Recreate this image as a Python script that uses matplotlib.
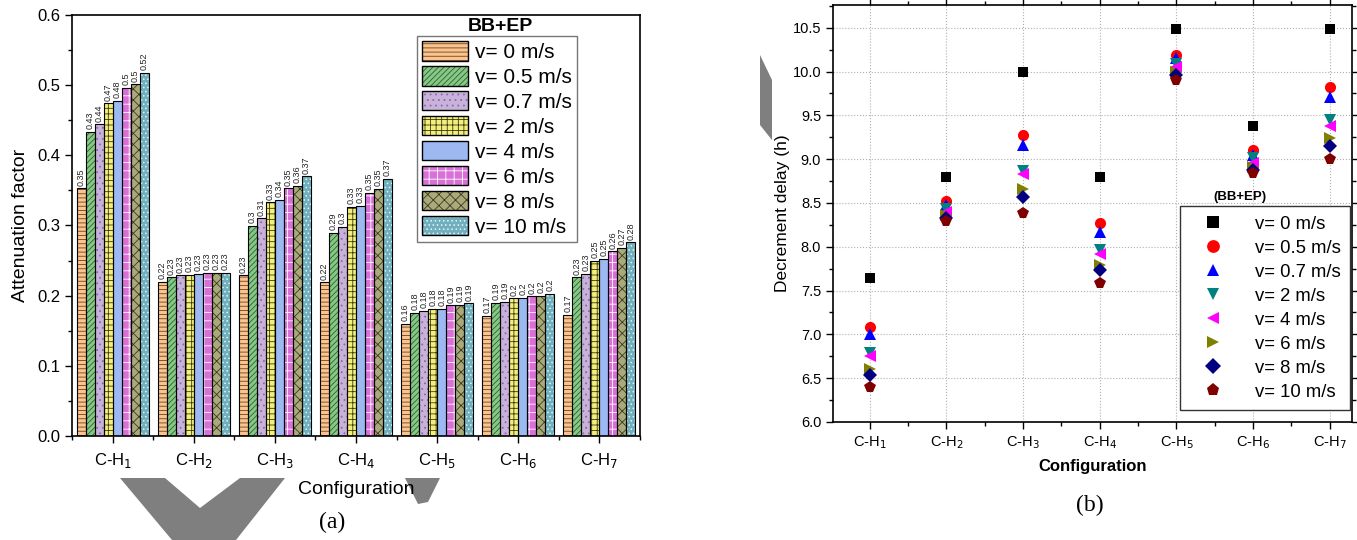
import matplotlib
matplotlib.use("Agg")
import matplotlib.pyplot as plt
from matplotlib.patches import Patch, Polygon
from matplotlib.ticker import MultipleLocator
import numpy as np

plt.rcParams['font.family'] = ['Liberation Sans', 'DejaVu Sans']
plt.rcParams['hatch.linewidth'] = 0.6

# ---------------- data ----------------
configs = ["C-H$_1$", "C-H$_2$", "C-H$_3$", "C-H$_4$", "C-H$_5$", "C-H$_6$", "C-H$_7$"]
speeds = ["v= 0 m/s", "v= 0.5 m/s", "v= 0.7 m/s", "v= 2 m/s",
          "v= 4 m/s", "v= 6 m/s", "v= 8 m/s", "v= 10 m/s"]

# Attenuation factor (panel a): one list per speed, values for C-H1..C-H7
att_v0 = [0.353, 0.220, 0.229, 0.219, 0.160, 0.171, 0.173]
att_v05 = [0.433, 0.226, 0.299, 0.289, 0.176, 0.190, 0.226]
att_v07 = [0.444, 0.229, 0.310, 0.298, 0.178, 0.191, 0.231]
att_v2 = [0.474, 0.230, 0.333, 0.326, 0.181, 0.196, 0.249]
att_v4 = [0.477, 0.231, 0.337, 0.328, 0.181, 0.197, 0.252]
att_v6 = [0.496, 0.232, 0.353, 0.346, 0.186, 0.199, 0.263]
att_v8 = [0.501, 0.232, 0.356, 0.352, 0.187, 0.200, 0.268]
att_v10 = [0.517, 0.233, 0.370, 0.366, 0.189, 0.203, 0.276]

# Decrement delay (panel b)
dd_v0 = [7.64, 8.80, 10.00, 8.80, 10.49, 9.38, 10.49]
dd_v05 = [7.09, 8.52, 9.28, 8.27, 10.19, 9.10, 9.82]
dd_v07 = [7.00, 8.48, 9.16, 8.17, 10.15, 9.05, 9.71]
dd_v2 = [6.79, 8.43, 8.87, 7.96, 10.09, 9.01, 9.45]
dd_v4 = [6.75, 8.40, 8.83, 7.92, 10.05, 8.96, 9.38]
dd_v6 = [6.61, 8.36, 8.66, 7.79, 10.00, 8.91, 9.24]
dd_v8 = [6.54, 8.33, 8.57, 7.74, 9.96, 8.88, 9.15]
dd_v10 = [6.40, 8.29, 8.39, 7.59, 9.90, 8.84, 9.00]

att_all = [att_v0, att_v05, att_v07, att_v2, att_v4, att_v6, att_v8, att_v10]
dd_all = [dd_v0, dd_v05, dd_v07, dd_v2, dd_v4, dd_v6, dd_v8, dd_v10]

# ---------------- styles ----------------
bar_face = ['#FBC48E', '#86C986', '#C9B2DA', '#F4EF7C', '#9DB9F2', '#D870D8', '#A9A97A', '#6FAFBE']
bar_hatch = ['----', '//////', '...', '+++', '', '++', 'xxx', '....']
bar_hcol = ['#6a4220', '#2f5f2f', '#8a6aa8', '#3a3a10', '#9DB9F2', '#ffffff', '#3a3a22', '#e6f4f6']

mk_style = ['s', 'o', '^', 'v', '<', '>', 'D', 'p']
mk_color = ['#000000', '#FF0000', '#0000FF', '#008080', '#FF00FF', '#808000', '#000080', '#800000']
mk_size = [7, 8, 8, 8, 8, 8, 7, 8.5]

fig = plt.figure(figsize=(13.57, 5.40), dpi=100)

# ---------------- grey watermark shapes (behind everything) ----------------
def px_poly(pts, **kw):
    P = [(px / 1357, 1 - py / 540) for px, py in pts]
    fig.patches.append(Polygon(P, closed=True, transform=fig.transFigure, **kw))

grey = dict(facecolor='#7f7f7f', edgecolor='none', zorder=-1)
px_poly([(120, 478), (165, 478), (200, 508), (240, 478), (285, 478), (236, 540), (172, 540)], **grey)
px_poly([(405, 478), (440, 478), (428, 502), (418, 504)], **grey)
px_poly([(760, 55), (772, 80), (772, 140), (760, 125)], **grey)

# ---------------- panel (a) ----------------
axa = fig.add_axes([72 / 1357, 104 / 540, 568 / 1357, 421 / 540])
x = np.arange(1, len(configs) + 1)
w = 0.111
for j, vals in enumerate(att_all):
    pos = x + (j - 3.5) * w
    axa.bar(pos, vals, width=w, color=bar_face[j], hatch=bar_hatch[j],
            edgecolor=bar_hcol[j], linewidth=0, zorder=2)
    axa.bar(pos, vals, width=w, fill=False, edgecolor='black', linewidth=0.8, zorder=3)
    for p, v in zip(pos, vals):
        lab = f"{v:.2f}".rstrip('0')
        axa.text(p, v + 0.004, lab, rotation=90, ha='center', va='bottom',
                 fontsize=6.5, color='#222222')

axa.set_xlim(0.5, 7.5)
axa.set_ylim(0, 0.6)
axa.set_xticks(x)
axa.set_xticklabels(configs, fontsize=12)
axa.xaxis.set_minor_locator(MultipleLocator(0.5))
axa.yaxis.set_major_locator(MultipleLocator(0.1))
axa.yaxis.set_minor_locator(MultipleLocator(0.05))
axa.yaxis.set_major_formatter(matplotlib.ticker.FormatStrFormatter('%.1f'))
axa.tick_params(axis='y', labelsize=12)
axa.tick_params(axis='x', pad=6)
axa.tick_params(which='major', direction='out', length=5, width=1)
axa.tick_params(which='minor', direction='out', length=3, width=1)
axa.set_ylabel("Attenuation factor", fontsize=14, labelpad=6)
axa.set_xlabel("Configuration", fontsize=14, labelpad=8)
for s in axa.spines.values():
    s.set_linewidth(1.2)

handles_a = [(Patch(facecolor=bar_face[j], hatch=bar_hatch[j], edgecolor=bar_hcol[j], linewidth=0),
              Patch(fill=False, edgecolor='black', linewidth=1.0)) for j in range(8)]
leg_a = axa.legend(handles_a, speeds, loc='upper left', bbox_to_anchor=(0.607, 0.950),
                   fontsize=15, frameon=True, fancybox=False, edgecolor='#555555',
                   handlelength=2.2, handleheight=1.05, labelspacing=0.2,
                   handletextpad=0.35, borderpad=0.25, borderaxespad=0)
leg_a.get_frame().set_linewidth(1.0)
axa.text(0.754, 0.972, "BB+EP", transform=axa.transAxes, ha='center', va='center',
         fontsize=14, fontweight='bold')

# ---------------- panel (b) ----------------
axb = fig.add_axes([833 / 1357, 118 / 540, 519 / 1357, 417 / 540])
for j, vals in enumerate(dd_all):
    axb.plot(x, vals, linestyle='none', marker=mk_style[j], color=mk_color[j],
             markersize=mk_size[j], markeredgewidth=0, label=speeds[j], zorder=3)

axb.set_xlim(0.52, 7.29)
axb.set_ylim(6.0, 10.76)
axb.set_xticks(x)
axb.set_xticklabels(configs, fontsize=10.5)
axb.xaxis.set_minor_locator(MultipleLocator(0.5))
axb.yaxis.set_major_locator(MultipleLocator(0.5))
axb.yaxis.set_minor_locator(MultipleLocator(0.25))
axb.yaxis.set_major_formatter(matplotlib.ticker.FormatStrFormatter('%.1f'))
axb.tick_params(axis='y', labelsize=10.5)
axb.tick_params(which='major', direction='out', length=5, width=1, top=True, right=True)
axb.tick_params(which='minor', direction='out', length=3, width=1, top=True, right=True)
axb.grid(True, which='major', linestyle=':', color='#b0b0b0', linewidth=0.8, zorder=0)
axb.set_ylabel("Decrement delay (h)", fontsize=12.5, labelpad=2)
axb.set_xlabel("Configuration", fontsize=12, fontweight='bold', labelpad=6)
for s in axb.spines.values():
    s.set_linewidth(1.2)

leg_b = axb.legend(loc='lower right', bbox_to_anchor=(0.996, 0.029), fontsize=13.3,
                   frameon=True, fancybox=False, edgecolor='#333333', framealpha=1,
                   handlelength=2.6, labelspacing=0.38, handletextpad=0.95,
                   borderpad=0.5, borderaxespad=0, markerscale=1.15)
leg_b.get_frame().set_linewidth(1.0)
axb.text(0.784, 0.540, "(BB+EP)", transform=axb.transAxes, ha='center', va='center',
         fontsize=9.5, fontweight='bold')

# ---------------- captions ----------------
fig.text(332 / 1357, 1 - 522 / 540, "(a)", ha='center', va='center',
         fontsize=17, family='Liberation Serif')
fig.text(1090 / 1357, 1 - 505 / 540, "(b)", ha='center', va='center',
         fontsize=17, family='Liberation Serif')

fig.savefig("out.png", dpi=100)
